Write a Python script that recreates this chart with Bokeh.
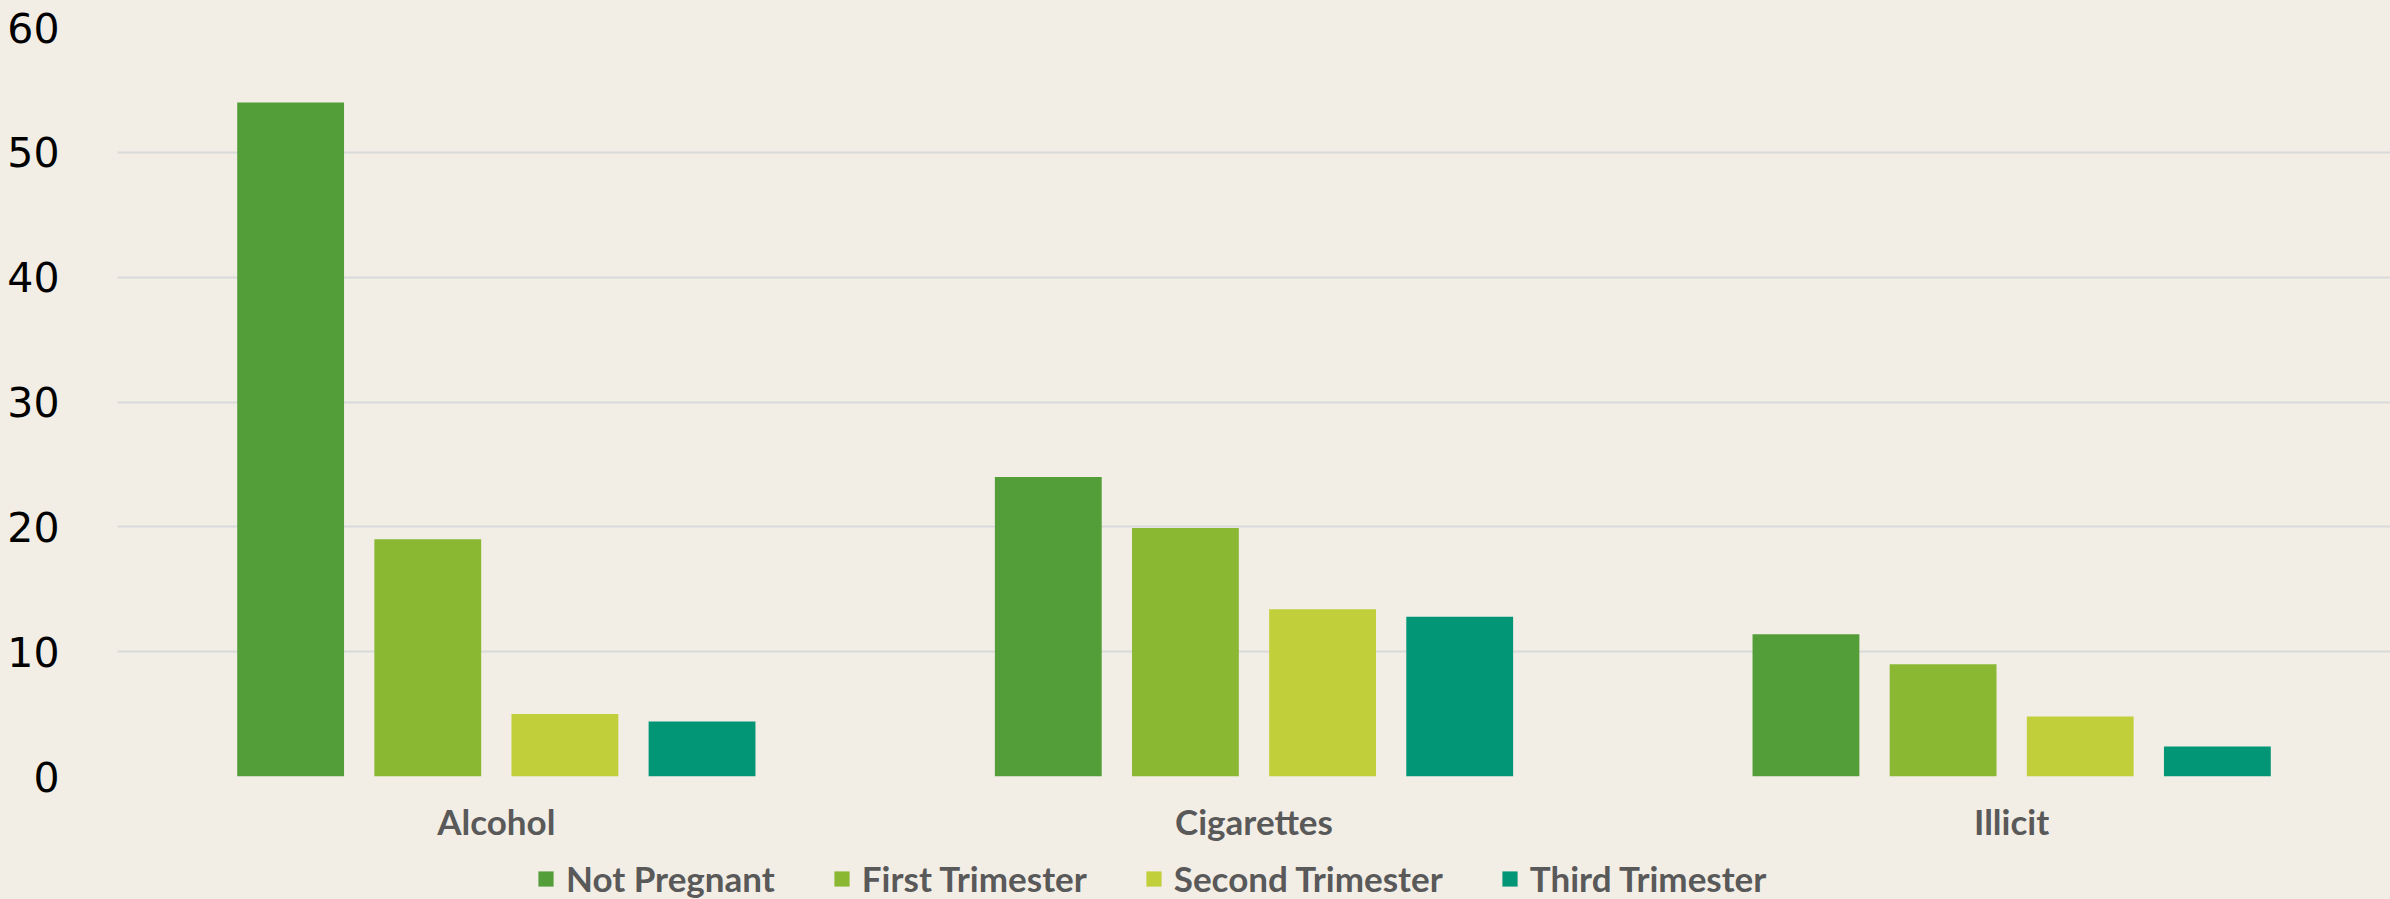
from bokeh.plotting import figure
from bokeh.layouts import column
from bokeh.models import FactorRange, Range1d, Legend, LegendItem, ColumnDataSource, FixedTicker
from bokeh.transform import dodge
from bokeh.embed import file_html
from bokeh.resources import INLINE

categories = ["Alcohol", "Cigarettes", "Illicit"]
series = ["Not Pregnant", "First Trimester", "Second Trimester", "Third Trimester"]
not_pregnant = [54, 24, 11.4]
first_trimester = [19, 19.9, 9]
second_trimester = [5, 13.4, 4.8]
third_trimester = [4.4, 12.8, 2.4]
y_ticks = [0, 10, 20, 30, 40, 50, 60]
colors = ["#549E39", "#8AB833", "#C0CF3A", "#029676"]

keys = ["np", "t1", "t2", "t3"]
source = ColumnDataSource(dict(cat=categories, np=not_pregnant, t1=first_trimester,
                               t2=second_trimester, t3=third_trimester))

BG = "#F2EEE6"
LEG_H = 55
p = figure(x_range=FactorRange(*categories), y_range=Range1d(0, 60),
           width=2390, height=899 - LEG_H, output_backend="svg", toolbar_location=None,
           min_border_left=117, min_border_right=0, min_border_top=27, min_border_bottom=61,
           background_fill_color=BG, border_fill_color=BG)
p.outline_line_color = None

offsets = [-0.2715, -0.0905, 0.0905, 0.2715]
for key, off, c in zip(keys, offsets, colors):
    p.vbar(x=dodge('cat', off, range=p.x_range), top=key, width=0.141, bottom=0,
           source=source, fill_color=c, line_color=None)

p.xgrid.grid_line_color = None
p.ygrid.grid_line_color = "#D9D9D9"
p.ygrid.grid_line_width = 2
p.yaxis.ticker = FixedTicker(ticks=y_ticks)
for ax in (p.xaxis[0], p.yaxis[0]):
    ax.axis_line_color = None
    ax.major_tick_line_color = None
    ax.minor_tick_line_color = None
p.yaxis.major_label_text_font = "DejaVu Sans"
p.yaxis.major_label_text_font_size = "41px"
p.yaxis.major_label_text_color = "#000000"
p.yaxis.major_label_standoff = 52
p.xaxis.major_label_text_font = "Lato"
p.xaxis.major_label_text_font_style = "bold"
p.xaxis.major_label_text_font_size = "35px"
p.xaxis.major_label_text_color = "#595959"
p.xaxis.major_label_standoff = 17

# legend strip
lg = figure(width=2390, height=LEG_H, output_backend="svg", toolbar_location=None,
            x_range=Range1d(0, 1), y_range=Range1d(0, 1),
            x_axis_location=None, y_axis_location=None,
            min_border_left=0, min_border_right=0, min_border_top=0, min_border_bottom=0,
            background_fill_color=None, border_fill_color=BG)
lg.outline_line_color = None
lg.grid.grid_line_color = None
leg_renderers = []
for c in colors:
    leg_renderers.append(lg.vbar(x=[0.5], top=[0], bottom=[0], width=0.0,
                                 fill_color=c, line_color=None))

legend = Legend(items=[LegendItem(label=s, renderers=[r]) for s, r in zip(series, leg_renderers)],
                orientation="horizontal", location=(419, 0),
                background_fill_alpha=0, border_line_color=None,
                label_text_font="Lato", label_text_font_style="bold",
                label_text_font_size="35px", label_text_color="#595959",
                glyph_width=19, glyph_height=19, spacing=57, padding=0, margin=0,
                label_standoff=11)
lg.add_layout(legend, "center")

layout = column(p, lg, spacing=0, styles={"background-color": BG})
open("out.html", "w").write(file_html(layout, INLINE))
